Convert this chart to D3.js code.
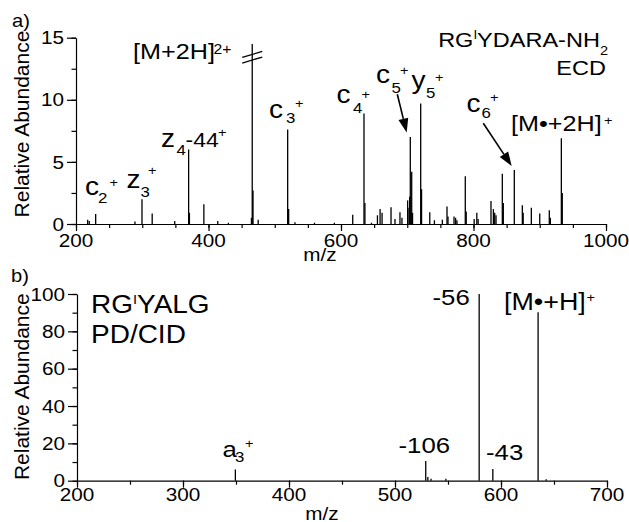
<!DOCTYPE html>
<html>
<head>
<meta charset="utf-8">
<script src="https://cdn.jsdelivr.net/npm/d3@7"></script>
<style>
  body { margin: 0; background: #fff; }
  text { font-family: 'Liberation Sans', Arial, Helvetica, sans-serif; fill: #000; }
</style>
</head>
<body>
<div id="chart"></div>
<script>
// Panel a) ECD spectrum of RG(I)YDARA-NH2, m/z vs relative abundance
const mzA = [217.6, 220, 229.7, 289, 299.6, 315, 349, 370, 371.2, 393, 414, 430,
  464.8, 466, 467.2, 475, 519.5, 521, 530.5, 560, 590, 617.7, 634.7, 636.1, 646,
  655, 659, 662, 675.5, 681.5, 689, 692, 700.6, 702.6, 703.6, 704.6, 706.7, 708,
  720.3, 721.6, 734, 741, 753, 760, 761.5, 770.6, 773, 775, 787.6, 789, 801, 805,
  807, 826.4, 830, 832, 834, 843.5, 845, 861.6, 873.7, 875, 887.3, 900, 914.4,
  916, 932.6, 934];
const intA = [0.35, 0.25, 0.8, 0.2, 2.0, 0.85, 0.25, 6.0, 0.9, 1.6, 0.25, 0.1,
  0.5, 14.5, 2.7, 0.35, 7.6, 1.2, 0.15, 0.1, 0.1, 0.75, 8.9, 1.7, 0.1,
  0.7, 1.2, 0.9, 1.35, 0.4, 0.95, 0.5, 1.9, 1.3, 2.2, 7.0, 4.2, 0.9,
  9.7, 2.8, 0.95, 0.3, 0.35, 1.4, 0.6, 0.6, 0.5, 0.3, 3.85, 1.0, 0.4, 0.9,
  0.4, 1.85, 1.2, 0.9, 0.7, 4.05, 1.7, 4.35, 1.5, 0.9, 1.3, 0.85, 1.1,
  0.5, 6.9, 2.5];
const xTicksA = [200, 400, 600, 800, 1000];
const yTicksA = [0, 5, 10, 15];

// Panel b) PD/CID spectrum of RG(I)YALG
const mzB = [349.4, 529, 531, 534, 548, 579.4, 592.3, 635, 642.6];
const intB = [6, 10.5, 2, 1, 1, 100, 6.3, 90.2, 0.8];
const xTicksB = [200, 300, 400, 500, 600, 700];
const yTicksB = [0, 20, 40, 60, 80, 100];

const SX = 1.12; // glyphs in the figure are a bit wider than tall

const svg = d3.select("#chart").append("svg")
  .attr("width", 629).attr("height", 522);

function txt(x, y, s, size, anchor) {
  return svg.append("text")
    .attr("transform", `translate(${x},${y}) scale(${SX},1)`)
    .attr("font-size", size)
    .attr("text-anchor", anchor || "start")
    .text(s);
}

function drawPanel(o) {
  const {x, y, mz, inten, xTicks, yTicks, xMinorStep, yMinorStep, yMax, tickBase, mzBase, mzX} = o;
  // minor ticks
  svg.append("g").attr("transform", `translate(0,${y(0)})`)
    .call(d3.axisBottom(x).tickValues(d3.range(x.domain()[0], x.domain()[1] + 1, xMinorStep))
      .tickSize(4).tickSizeOuter(0).tickFormat(""))
    .call(g => g.select(".domain").remove());
  svg.append("g").attr("transform", `translate(${x.range()[0]},0)`)
    .call(d3.axisLeft(y).tickValues(d3.range(0, yMax + 0.01, yMinorStep))
      .tickSize(4.5).tickSizeOuter(0).tickFormat(""))
    .call(g => g.select(".domain").remove());
  // major ticks + axis lines
  svg.append("g").attr("transform", `translate(0,${y(0)})`)
    .call(d3.axisBottom(x).tickValues(xTicks).tickSize(7).tickSizeOuter(0).tickFormat(""));
  svg.append("g").attr("transform", `translate(${x.range()[0]},0)`)
    .call(d3.axisLeft(y).tickValues(yTicks).tickSize(9).tickSizeOuter(0).tickFormat(""));
  svg.selectAll(".tick line, .domain").attr("stroke", "#000").attr("stroke-width", 1.2);

  xTicks.forEach(t => txt(x(t), tickBase, t, 18.5, "middle"));
  yTicks.forEach(t => txt(x.range()[0] - 12, y(t) + 6.6, t, 18.5, "end"));
  txt(mzX, mzBase, "m/z", 18.5, "middle");

  svg.append("g").selectAll("line")
    .data(d3.zip(mz, inten))
    .join("line")
    .attr("x1", d => x(d[0])).attr("x2", d => x(d[0]))
    .attr("y1", y(0)).attr("y2", d => y(Math.min(d[1], yMax)))
    .attr("stroke", "#000").attr("stroke-width", 1.3);
}

// ---- panel a
const xA = d3.scaleLinear().domain([200, 1000]).range([76, 606]);
const yA = d3.scaleLinear().domain([0, 15]).range([224, 37.7]);
drawPanel({x: xA, y: yA, mz: mzA, inten: intA, xTicks: xTicksA, yTicks: yTicksA,
  xMinorStep: 50, yMinorStep: 2.5, yMax: 15, tickBase: 246.5, mzBase: 260.5, mzX: 320});

// ---- panel b
const xB = d3.scaleLinear().domain([200, 700]).range([77, 607]);
const yB = d3.scaleLinear().domain([0, 100]).range([480.7, 294]);
drawPanel({x: xB, y: yB, mz: mzB, inten: intB, xTicks: xTicksB, yTicks: yTicksB,
  xMinorStep: 50, yMinorStep: 10, yMax: 100, tickBase: 501, mzBase: 519.5, mzX: 322});

// y axis titles
[[124, yA], [386.7, yB]].forEach(([cy]) => {
  svg.append("text")
    .attr("transform", `translate(29,${cy}) rotate(-90)`)
    .attr("font-size", 21).attr("text-anchor", "middle")
    .text("Relative Abundance");
});

// panel letters
txt(12, 27, "a)", 18);
txt(11, 282, "b)", 18);

// axis break on the off-scale [M+2H]2+ peak
const bx = xA(466);
[13.2, 13.65].forEach(v => {
  svg.append("line")
    .attr("x1", bx - 10).attr("y1", yA(v) + 3)
    .attr("x2", bx + 10).attr("y2", yA(v) - 3)
    .attr("stroke", "#000").attr("stroke-width", 1.3);
});

// peak annotations (x, baseline, text, font size)
const annot = [
  [85, 195, "c", 25], [98, 202.5, "2", 15], [109.5, 186.5, "+", 13],
  [126.5, 188.3, "z", 25], [140.5, 196.7, "3", 15], [148, 174.8, "+", 13],
  [161, 146.7, "z", 25], [176.5, 155, "4", 15], [185.5, 146.7, "-44", 20.5], [218, 136.5, "+", 13],
  [269, 118.3, "c", 25], [286, 123.3, "3", 15], [295, 107.5, "+", 13],
  [336.5, 103.3, "c", 25], [353, 113.3, "4", 15], [361.5, 98.8, "+", 13],
  [376, 83.3, "c", 25], [391.5, 92.7, "5", 15], [400, 74.8, "+", 13],
  [411.5, 89, "y", 25], [426, 98.3, "5", 15], [435, 82.2, "+", 13],
  [466.5, 111.7, "c", 25], [481.5, 118.3, "6", 15], [490, 101.5, "+", 13],
  [133, 58.5, "[M+2H]", 22.5], [213.5, 53.5, "2+", 14],
  [511, 130.7, "[M\u2022+2H]", 22.5], [604, 124.8, "+", 13],
  [222.5, 456.7, "a", 23], [235, 461.7, "3", 15], [245, 448, "+", 13],
  [398.5, 453.3, "-106", 23], [432.5, 305, "-56", 23], [486, 460, "-43", 23],
  [504, 310, "[M\u2022+H]", 24], [586.5, 301.5, "+", 13]
];
annot.forEach(a => txt(a[0], a[1], a[2], a[3]));

// titles
const t1 = txt(608, 46.7, "", 21, "end");
t1.append("tspan").text("RG");
t1.append("tspan").attr("font-size", 12).attr("dy", -7.5).text("I");
t1.append("tspan").attr("dy", 7.5).text("YDARA-NH");
t1.append("tspan").attr("font-size", 13).attr("dy", 8).text("2");
txt(606, 75, "ECD", 21, "end");

const t2 = txt(91, 313.3, "", 25);
t2.append("tspan").text("RG");
t2.append("tspan").attr("font-size", 13).attr("dy", -9.5).text("I");
t2.append("tspan").attr("dy", 9.5).text("YALG");
txt(91, 343.3, "PD/CID", 25);

// arrows to c5+ and c6+
function arrow(x0, y0, x1, y1) {
  const ang = Math.atan2(y1 - y0, x1 - x0), L = 14, W = 5;
  const bxp = x1 - L * Math.cos(ang), byp = y1 - L * Math.sin(ang);
  svg.append("line").attr("x1", x0).attr("y1", y0).attr("x2", bxp).attr("y2", byp)
    .attr("stroke", "#000").attr("stroke-width", 1.6);
  const px = -Math.sin(ang) * W, py = Math.cos(ang) * W;
  svg.append("path")
    .attr("d", `M${x1},${y1}L${bxp + px},${byp + py}L${bxp - px},${byp - py}Z`)
    .attr("fill", "#000");
}
arrow(397.3, 94.3, xA(704.6) - 3.6, yA(7.0) - 4.6);
arrow(483.3, 123.3, xA(861.6) - 2.6, yA(4.35) - 4);
</script>
</body>
</html>
